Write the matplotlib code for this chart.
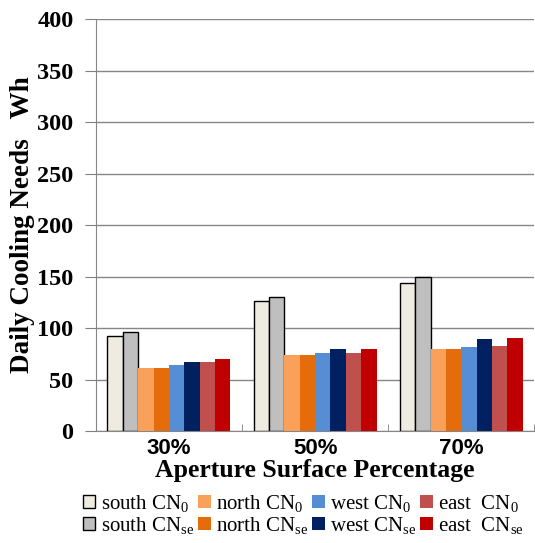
import numpy as np
import matplotlib.pyplot as plt

plt.rcParams['mathtext.fontset'] = 'custom'
plt.rcParams['mathtext.rm'] = 'Liberation Serif'
plt.rcParams['mathtext.it'] = 'Liberation Serif'

categories = ['30%', '50%', '70%']
series = ['south CN$_0$', 'south CN$_{se}$', 'north CN$_0$', 'north CN$_{se}$',
          'west CN$_0$', 'west CN$_{se}$', 'east  CN$_0$', 'east  CN$_{se}$']
values = [
    [92, 126, 144],   # south CN0
    [96, 130, 150],   # south CNse
    [61, 74, 80],     # north CN0
    [61, 74, 80],     # north CNse
    [64, 76, 82],     # west CN0
    [67, 80, 89],     # west CNse
    [67, 76, 83],     # east CN0
    [70, 80, 90],     # east CNse
]
colors = ['#EEECE1', '#BFBFBF', '#F9A05A', '#E46C0A',
          '#558ED5', '#002060', '#C0504D', '#C00000']
edges = ['black', 'black'] + ['none'] * 6

fig = plt.figure(figsize=(5.35, 5.43), dpi=100)
ax = fig.add_axes([0.179, 0.206, 0.82, 0.759])

x = np.arange(len(categories))
w = 0.105
for i, (lab, vals) in enumerate(zip(series, values)):
    ax.bar(x + (i - 3.5) * w, vals, w, color=colors[i], edgecolor=edges[i],
           linewidth=1.0, label=lab, zorder=3)

ax.set_xlim(-0.5, 2.5)
ax.set_ylim(0, 400)
ax.set_yticks(range(0, 401, 50))
ax.set_xticks(x)
ax.set_xticklabels(categories, fontfamily='Liberation Sans', fontweight='bold', fontsize=16)
ax.set_xticks([-0.5, 0.5, 1.5, 2.5], minor=True)
ax.tick_params(axis='x', which='major', length=0, pad=5)
ax.tick_params(axis='x', which='minor', length=5, color='#808080', direction='in')
ax.tick_params(axis='y', length=8, color='#808080', pad=8)
for t in ax.get_yticklabels():
    t.set_fontfamily('Liberation Serif')
    t.set_fontweight('bold')
    t.set_fontsize(17.5)

ax.grid(axis='y', color='#868686', linewidth=1.0, zorder=0)
for s in ['top', 'right']:
    ax.spines[s].set_visible(False)
for s in ['left', 'bottom']:
    ax.spines[s].set_color('#868686')

ax.set_ylabel('Daily Cooling Needs   Wh', fontfamily='Liberation Serif',
              fontweight='bold', fontsize=19.5, labelpad=2)
ax.set_xlabel('Aperture Surface Percentage', fontfamily='Liberation Serif',
              fontweight='bold', fontsize=18.5, labelpad=0)

fig.legend(loc='upper left', bbox_to_anchor=(0.155, 0.092), ncol=4, frameon=False,
           prop={'family': 'Liberation Serif', 'size': 15}, handlelength=0.6,
           handleheight=0.6, handletextpad=0.25, columnspacing=0.2, labelspacing=0.05,
           borderaxespad=0, borderpad=0)

fig.savefig('out.png', dpi=100)
